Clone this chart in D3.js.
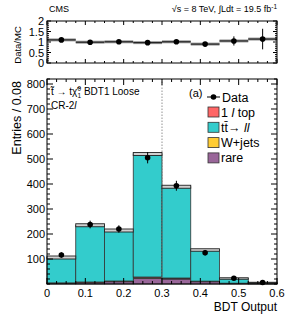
<!DOCTYPE html>
<html lang="en">
<head>
<meta charset="UTF-8">
<title>BDT Output</title>
<script src="https://cdn.jsdelivr.net/npm/d3@7/dist/d3.min.js"></script>
<style>
    body { margin: 0; background: #fff; }
    svg { font-family: "Liberation Sans", Arial, sans-serif; }
</style>
</head>
<body>
<div id="chart"></div>
<script>
    // bin edges and values
    const edges = [0, 0.075, 0.15, 0.225, 0.3, 0.375, 0.45, 0.525, 0.6];
    const dataVals = [116, 238, 220, 505, 393, 125, 23, 6];
    const mcTotal = [106, 235, 214, 520, 389, 136, 22, 5];
    const mcErr = [6, 6, 6, 6, 6, 5, 3, 2];
    const rare = [3, 5, 9, 23, 20, 9, 2, 1];
    const wjets = [0.5, 1, 1, 1, 1, 0.5, 0.3, 0.1];
    const oneLTop = [1, 2, 2, 4, 3, 2, 1, 0.5];
    const ratio = [1.1, 0.99, 1.01, 0.97, 1.01, 0.9, 1.05, 1.14];

    const xTicks = [0, 0.1, 0.2, 0.3, 0.4, 0.5, 0.6];
    const yTicks = [100, 200, 300, 400, 500, 600, 700, 800];
    const rTicks = [0, 0.5, 1, 1.5, 2];

    const W = 291, H = 328;
    const L = 47, R = 277;
    const main = { top: 79, bottom: 284 };
    const rat = { top: 21, bottom: 63 };

    const svg = d3.select('#chart').append('svg')
        .attr('width', W).attr('height', H);

    const x = d3.scaleLinear().domain([0, 0.6]).range([L, R]);
    const y = d3.scaleLinear().domain([0, 820]).range([main.bottom, main.top]);
    const yr = d3.scaleLinear().domain([0, 2]).range([rat.bottom, rat.top]);

    // stack: rare, W+jets, 1l top, tt->ll (top)
    const bins = d3.range(8).map(i => {
        const ttll = mcTotal[i] - rare[i] - wjets[i] - oneLTop[i];
        return { i, x0: edges[i], x1: edges[i + 1], rare: rare[i], wjets: wjets[i], top1l: oneLTop[i], ttll };
    });
    const stack = d3.stack().keys(['rare', 'wjets', 'top1l', 'ttll'])(bins);
    const colors = { rare: '#996699', wjets: '#ffcc33', top1l: '#ff6666', ttll: '#33cccc' };

    const plot = svg.append('g');
    stack.forEach(layer => {
        plot.append('g').selectAll('rect')
            .data(layer)
            .join('rect')
            .attr('x', d => x(d.data.x0))
            .attr('width', d => x(d.data.x1) - x(d.data.x0))
            .attr('y', d => y(d[1]))
            .attr('height', d => Math.max(0, y(d[0]) - y(d[1])))
            .attr('fill', colors[layer.key])
            .attr('stroke', '#333')
            .attr('stroke-width', 0.8);
    });

    // MC uncertainty band
    plot.append('g').selectAll('rect')
        .data(bins)
        .join('rect')
        .attr('x', d => x(d.x0))
        .attr('width', d => x(d.x1) - x(d.x0))
        .attr('y', d => y(mcTotal[d.i] + mcErr[d.i]))
        .attr('height', d => y(mcTotal[d.i] - mcErr[d.i]) - y(mcTotal[d.i] + mcErr[d.i]))
        .attr('fill', '#d0d0d0')
        .attr('stroke', '#222')
        .attr('stroke-width', 0.9);

    // dotted cut line
    svg.append('line')
        .attr('x1', x(0.3)).attr('x2', x(0.3))
        .attr('y1', main.bottom).attr('y2', main.top)
        .attr('stroke', '#777').attr('stroke-width', 0.8)
        .attr('stroke-dasharray', '1.5,1.5');

    // data points
    const pts = svg.append('g');
    bins.forEach(d => {
        const cx = x((d.x0 + d.x1) / 2), v = dataVals[d.i], e = Math.sqrt(v);
        pts.append('line')
            .attr('x1', cx).attr('x2', cx)
            .attr('y1', y(v + e)).attr('y2', y(Math.max(0, v - e)))
            .attr('stroke', '#000').attr('stroke-width', 1);
        pts.append('circle').attr('cx', cx).attr('cy', y(v)).attr('r', 2.8).attr('fill', '#000');
    });

    // ratio panel
    const rp = svg.append('g');
    bins.forEach(d => {
        const cx = x((d.x0 + d.x1) / 2), v = ratio[d.i];
        const e = Math.sqrt(dataVals[d.i]) / mcTotal[d.i];
        rp.append('rect')
            .attr('x', x(d.x0)).attr('width', x(d.x1) - x(d.x0))
            .attr('y', yr(v) - 1.5).attr('height', 3)
            .attr('fill', '#999');
        rp.append('line')
            .attr('x1', x(d.x0)).attr('x2', x(d.x1))
            .attr('y1', yr(v)).attr('y2', yr(v))
            .attr('stroke', '#222').attr('stroke-width', 1.2);
        rp.append('line')
            .attr('x1', cx).attr('x2', cx)
            .attr('y1', yr(Math.min(2, v + e))).attr('y2', yr(v - e))
            .attr('stroke', '#000').attr('stroke-width', 1);
        rp.append('circle').attr('cx', cx).attr('cy', yr(v)).attr('r', 2.8).attr('fill', '#000');
    });

    // frames and ticks (ROOT style, inward on all sides)
    function frame(top, bottom, yScale, yMajor, yMinorStep, yMax, majLen, minLen) {
        const g = svg.append('g').attr('stroke', '#000').attr('stroke-width', 1);
        g.append('rect').attr('x', L).attr('y', top).attr('width', R - L).attr('height', bottom - top)
            .attr('fill', 'none');
        const xMinor = d3.range(0, 0.6001, 0.025);
        xMinor.forEach(t => {
            const major = xTicks.some(m => Math.abs(m - t) < 1e-6);
            const len = major ? majLen : minLen;
            g.append('line').attr('x1', x(t)).attr('x2', x(t)).attr('y1', bottom).attr('y2', bottom - len);
            g.append('line').attr('x1', x(t)).attr('x2', x(t)).attr('y1', top).attr('y2', top + len);
        });
        d3.range(0, yMax + 1e-6, yMinorStep).forEach(t => {
            const major = yMajor.some(m => Math.abs(m - t) < 1e-6);
            const len = major ? majLen : minLen;
            const yy = yScale(t);
            g.append('line').attr('x1', L).attr('x2', L + len).attr('y1', yy).attr('y2', yy);
            g.append('line').attr('x1', R).attr('x2', R - len).attr('y1', yy).attr('y2', yy);
        });
    }
    frame(main.top, main.bottom, y, yTicks, 20, 820, 6, 3);
    frame(rat.top, rat.bottom, yr, rTicks, 0.1, 2, 4, 2);

    // tick labels
    const lab = svg.append('g').attr('font-size', 11).attr('fill', '#000');
    yTicks.forEach(t => lab.append('text').attr('x', L - 2).attr('y', y(t) + 4)
        .attr('text-anchor', 'end').text(t));
    rTicks.forEach(t => lab.append('text').attr('x', L - 3).attr('y', yr(t) + 4)
        .attr('text-anchor', 'end').text(t));
    xTicks.forEach(t => lab.append('text').attr('x', x(t)).attr('y', main.bottom + 13)
        .attr('text-anchor', 'middle').text(t));

    // axis titles
    svg.append('text').attr('x', R).attr('y', 311).attr('text-anchor', 'end')
        .attr('font-size', 12).text('BDT Output');
    svg.append('text').attr('transform', `translate(21,${main.top + 2}) rotate(-90)`)
        .attr('text-anchor', 'end').attr('font-size', 12.5).text('Entries / 0.08');
    svg.append('text').attr('transform', `translate(21,${(rat.top + rat.bottom) / 2 + 3}) rotate(-90)`)
        .attr('text-anchor', 'middle').attr('font-size', 9.5).text('Data/MC');

    // header
    svg.append('text').attr('x', 49).attr('y', 12).attr('font-size', 9).text('CMS');
    const hdr = svg.append('text').attr('x', R).attr('y', 12).attr('font-size', 9).attr('text-anchor', 'end');
    hdr.append('tspan').text('\u221As = 8 TeV, \u222BLdt = 19.5 fb');
    hdr.append('tspan').attr('dy', -3).attr('font-size', 6.5).text('-1');

    // process label
    const pl = svg.append('text').attr('x', 51).attr('y', 95).attr('font-size', 10);
    pl.append('tspan').text('t\u0303 \u2192 t\u03C7\u0303');
    pl.append('tspan').attr('font-size', 6.5).attr('dy', -4).text('0');
    pl.append('tspan').attr('font-size', 6.5).attr('dx', -3.5).attr('dy', 7).text('1');
    pl.append('tspan').attr('dy', -3).text(' BDT1 Loose');
    const cr = svg.append('text').attr('x', 51).attr('y', 109).attr('font-size', 10);
    cr.append('tspan').text('CR-2');
    cr.append('tspan').attr('font-style', 'italic').text('l');

    // legend
    svg.append('text').attr('x', 189).attr('y', 97).attr('font-size', 11).text('(a)');
    const lg = svg.append('g').attr('font-size', 12.5);
    lg.append('line').attr('x1', 207).attr('x2', 220).attr('y1', 97).attr('y2', 97).attr('stroke', '#000');
    lg.append('circle').attr('cx', 213.5).attr('cy', 97).attr('r', 2.8);
    lg.append('text').attr('x', 222).attr('y', 101.5).text('Data');
    const entries = [
        { key: 'top1l', label: ['1 ', 'l', ' top'] },
        { key: 'ttll', label: ['tt\u0304\u2192 ', 'll', ''] },
        { key: 'wjets', label: ['W+jets', '', ''] },
        { key: 'rare', label: ['rare', '', ''] }
    ];
    entries.forEach((e, k) => {
        const cy = 112 + k * 15.3;
        lg.append('rect').attr('x', 208).attr('y', cy - 5).attr('width', 11).attr('height', 10)
            .attr('fill', colors[e.key]).attr('stroke', '#333').attr('stroke-width', 0.8);
        const t = lg.append('text').attr('x', 221).attr('y', cy + 4.5);
        t.append('tspan').text(e.label[0]);
        if (e.label[1]) t.append('tspan').attr('font-style', 'italic').text(e.label[1]);
        if (e.label[2]) t.append('tspan').text(e.label[2]);
    });
</script>
</body>
</html>
